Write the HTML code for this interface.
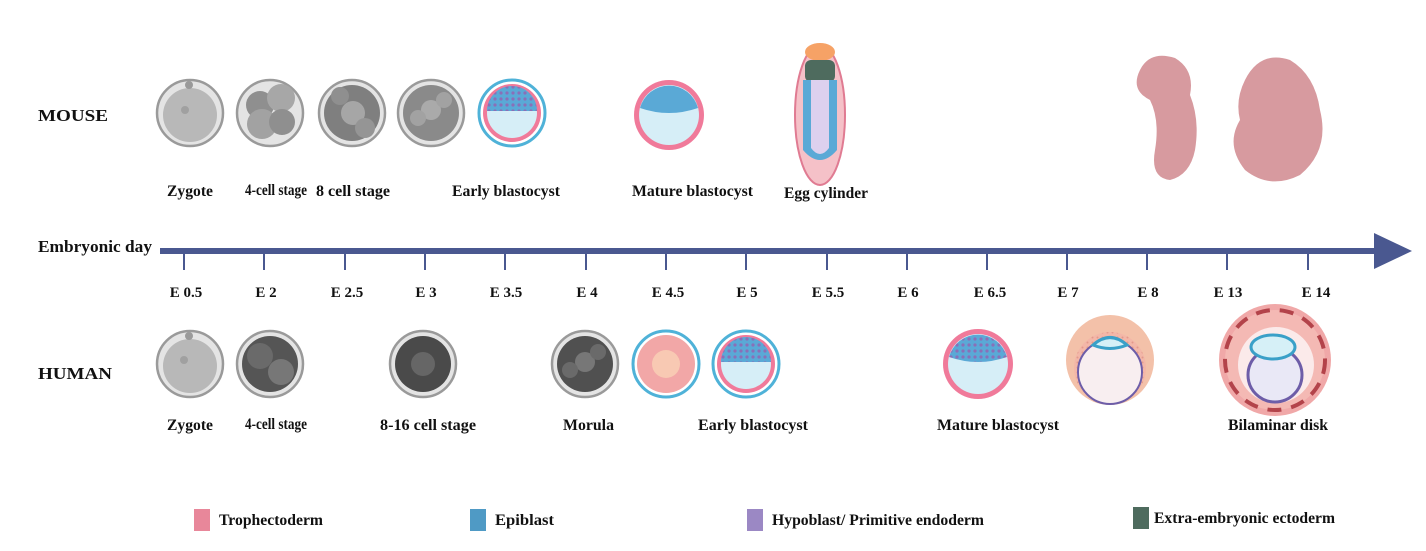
<!DOCTYPE html>
<html><head><meta charset="utf-8"><style>
html,body{margin:0;padding:0;background:#fff}
svg{display:block}
text{font-family:"Liberation Serif",serif;font-weight:bold;fill:#111}
</style></head><body>
<svg width="1426" height="551" viewBox="0 0 1426 551" xmlns="http://www.w3.org/2000/svg">
<defs>
<pattern id="dots" width="6" height="6" patternUnits="userSpaceOnUse"><rect width="6" height="6" fill="#5aa9d6"/><circle cx="3" cy="3" r="1.6" fill="#8a6fb8"/></pattern>
<pattern id="pdots" width="5" height="5" patternUnits="userSpaceOnUse"><rect width="5" height="5" fill="#f3b7a8"/><circle cx="2.5" cy="2.5" r="1" fill="#e39a8a"/></pattern>
</defs>

<text x="38" y="121" font-size="17" textLength="70" lengthAdjust="spacingAndGlyphs">MOUSE</text>
<text x="38" y="379" font-size="17" textLength="74" lengthAdjust="spacingAndGlyphs">HUMAN</text>
<text x="38" y="252" font-size="16.5" textLength="114" lengthAdjust="spacingAndGlyphs">Embryonic day</text>

<rect x="160" y="248" width="1220" height="6" fill="#4a5890"/>
<polygon points="1374,233 1412,251 1374,269" fill="#4a5890"/>
<g stroke="#4a5890" stroke-width="2">
<line x1="184" y1="254" x2="184" y2="270"/><line x1="264" y1="254" x2="264" y2="270"/><line x1="345" y1="254" x2="345" y2="270"/><line x1="425" y1="254" x2="425" y2="270"/><line x1="505" y1="254" x2="505" y2="270"/><line x1="586" y1="254" x2="586" y2="270"/><line x1="666" y1="254" x2="666" y2="270"/><line x1="746" y1="254" x2="746" y2="270"/><line x1="827" y1="254" x2="827" y2="270"/><line x1="907" y1="254" x2="907" y2="270"/><line x1="987" y1="254" x2="987" y2="270"/><line x1="1067" y1="254" x2="1067" y2="270"/><line x1="1147" y1="254" x2="1147" y2="270"/><line x1="1227" y1="254" x2="1227" y2="270"/><line x1="1308" y1="254" x2="1308" y2="270"/>
</g>
<g font-size="15" text-anchor="middle" font-weight="normal">
<text x="186" y="297">E 0.5</text><text x="266" y="297">E 2</text><text x="347" y="297">E 2.5</text><text x="426" y="297">E 3</text><text x="506" y="297">E 3.5</text><text x="587" y="297">E 4</text><text x="668" y="297">E 4.5</text><text x="747" y="297">E 5</text><text x="828" y="297">E 5.5</text><text x="908" y="297">E 6</text><text x="990" y="297">E 6.5</text><text x="1068" y="297">E 7</text><text x="1148" y="297">E 8</text><text x="1228" y="297">E 13</text><text x="1316" y="297">E 14</text>
</g>

<g>
<circle cx="190" cy="113" r="33" fill="#e4e4e4" stroke="#9a9a9a" stroke-width="2.5"/><circle cx="190" cy="115" r="27" fill="#b8b8b8"/><circle cx="189" cy="85" r="4" fill="#9a9a9a"/><circle cx="185" cy="110" r="4" fill="#a0a0a0"/>
<circle cx="270" cy="113" r="33" fill="#e4e4e4" stroke="#9a9a9a" stroke-width="2.5"/><circle cx="260" cy="105" r="14" fill="#8f8f8f"/><circle cx="281" cy="98" r="14" fill="#a7a7a7"/><circle cx="262" cy="124" r="15" fill="#a2a2a2"/><circle cx="282" cy="122" r="13" fill="#8f8f8f"/>
<circle cx="352" cy="113" r="33" fill="#e4e4e4" stroke="#9a9a9a" stroke-width="2.5"/><circle cx="352" cy="113" r="28" fill="#7f7f7f"/><circle cx="353" cy="113" r="12" fill="#a6a6a6"/><circle cx="340" cy="96" r="9" fill="#8f8f8f"/><circle cx="365" cy="128" r="10" fill="#959595"/>
<circle cx="431" cy="113" r="33" fill="#e4e4e4" stroke="#9a9a9a" stroke-width="2.5"/><circle cx="431" cy="113" r="28" fill="#8a8a8a"/><circle cx="431" cy="110" r="10" fill="#aaaaaa"/><circle cx="418" cy="118" r="8" fill="#a2a2a2"/><circle cx="444" cy="100" r="8" fill="#a2a2a2"/>
<circle cx="512" cy="113" r="33" fill="#fff" stroke="#4fb2d8" stroke-width="3"/><circle cx="512" cy="113" r="29" fill="#f07a9a"/><circle cx="512" cy="113" r="25" fill="#d6eef7"/><path d="M487,111 A25,25 0 0 1 537,111 Z" fill="url(#dots)"/>
<circle cx="669" cy="115" r="35" fill="#f07a9a"/><circle cx="669" cy="115" r="30" fill="#d6eef7"/><path d="M640,108 A30,30 0 0 1 698,108 Q669,118 640,108Z" fill="#5aa9d6"/>
<ellipse cx="820" cy="115" rx="25" ry="70" fill="#f5c1c8" stroke="#e07b92" stroke-width="2"/>
<ellipse cx="820" cy="52" rx="15" ry="9" fill="#f6a266"/>
<rect x="805" y="60" width="30" height="22" rx="6" fill="#4e6b5e"/>
<path d="M803,80 L837,80 L837,150 Q820,170 803,150Z" fill="#5aa9d6"/>
<path d="M811,80 L829,80 L829,148 Q820,160 811,148Z" fill="#ddd0ee"/>
<path d="M1140,70 Q1150,50 1175,58 Q1195,70 1190,95 Q1200,120 1195,150 Q1190,175 1170,180 Q1150,178 1155,150 Q1160,120 1150,100 Q1130,90 1140,70Z" fill="#d79a9f"/>
<path d="M1245,80 Q1260,50 1290,60 Q1315,75 1320,110 Q1330,150 1300,175 Q1270,190 1245,170 Q1225,145 1240,120 Q1235,100 1245,80Z" fill="#d79a9f"/>
</g>

<g>
<circle cx="190" cy="364" r="33" fill="#e4e4e4" stroke="#9a9a9a" stroke-width="2.5"/><circle cx="190" cy="366" r="27" fill="#b8b8b8"/><circle cx="189" cy="336" r="4" fill="#9a9a9a"/><circle cx="184" cy="360" r="4" fill="#a0a0a0"/>
<circle cx="270" cy="364" r="33" fill="#e4e4e4" stroke="#9a9a9a" stroke-width="2.5"/><circle cx="270" cy="364" r="28" fill="#555"/><circle cx="260" cy="356" r="13" fill="#6a6a6a"/><circle cx="281" cy="372" r="13" fill="#777"/>
<circle cx="423" cy="364" r="33" fill="#e4e4e4" stroke="#9a9a9a" stroke-width="2.5"/><circle cx="423" cy="364" r="28" fill="#4a4a4a"/><circle cx="423" cy="364" r="12" fill="#666"/>
<circle cx="585" cy="364" r="33" fill="#e4e4e4" stroke="#9a9a9a" stroke-width="2.5"/><circle cx="585" cy="364" r="28" fill="#505050"/><circle cx="585" cy="362" r="10" fill="#777"/><circle cx="570" cy="370" r="8" fill="#6a6a6a"/><circle cx="598" cy="352" r="8" fill="#6a6a6a"/>
<circle cx="666" cy="364" r="33" fill="#fff" stroke="#4fb2d8" stroke-width="3"/><circle cx="666" cy="364" r="29" fill="#f2a7a7"/><circle cx="666" cy="364" r="14" fill="#f8c9b3"/>
<circle cx="746" cy="364" r="33" fill="#fff" stroke="#4fb2d8" stroke-width="3"/><circle cx="746" cy="364" r="29" fill="#f07a9a"/><circle cx="746" cy="364" r="25" fill="#d6eef7"/><path d="M721,362 A25,25 0 0 1 771,362 Z" fill="url(#dots)"/>
<circle cx="978" cy="364" r="35" fill="#f07a9a"/><circle cx="978" cy="364" r="30" fill="#d6eef7"/><path d="M949,357 A30,30 0 0 1 1007,357 Q978,367 949,357Z" fill="url(#dots)"/>
<ellipse cx="1110" cy="360" rx="44" ry="45" fill="#f3c1a9"/><circle cx="1110" cy="368" r="36" fill="url(#pdots)"/><circle cx="1110" cy="372" r="32" fill="#f8eef0" stroke="#6d5da8" stroke-width="2"/><path d="M1093,345 Q1110,330 1127,345 Q1110,352 1093,345Z" fill="#d6f0f7" stroke="#3aa0c8" stroke-width="3"/>
<circle cx="1275" cy="360" r="56" fill="#f0a8a8"/><circle cx="1275" cy="360" r="50" fill="#f4b9b4" stroke="#b3434a" stroke-width="4" stroke-dasharray="14 10"/><circle cx="1276" cy="365" r="38" fill="#fbeaea"/><circle cx="1275" cy="375" r="27" fill="#e9e8f6" stroke="#6d5da8" stroke-width="3"/><ellipse cx="1273" cy="347" rx="22" ry="12" fill="#d6f0f7" stroke="#3aa0c8" stroke-width="3"/>
</g>

<g font-size="15.5" lengthAdjust="spacingAndGlyphs">
<text x="167" y="196" textLength="46" lengthAdjust="spacingAndGlyphs">Zygote</text>
<text x="245" y="195" textLength="62" lengthAdjust="spacingAndGlyphs">4-cell stage</text>
<text x="316" y="196" textLength="74" lengthAdjust="spacingAndGlyphs">8 cell stage</text>
<text x="452" y="196" textLength="108" lengthAdjust="spacingAndGlyphs">Early blastocyst</text>
<text x="632" y="196" textLength="121" lengthAdjust="spacingAndGlyphs">Mature blastocyst</text>
<text x="784" y="198" textLength="84" lengthAdjust="spacingAndGlyphs">Egg cylinder</text>
<text x="167" y="430" textLength="46" lengthAdjust="spacingAndGlyphs">Zygote</text>
<text x="245" y="429" textLength="62" lengthAdjust="spacingAndGlyphs">4-cell stage</text>
<text x="380" y="430" textLength="96" lengthAdjust="spacingAndGlyphs">8-16 cell stage</text>
<text x="563" y="430" textLength="51" lengthAdjust="spacingAndGlyphs">Morula</text>
<text x="698" y="430" textLength="110" lengthAdjust="spacingAndGlyphs">Early blastocyst</text>
<text x="937" y="430" textLength="122" lengthAdjust="spacingAndGlyphs">Mature blastocyst</text>
<text x="1228" y="430" textLength="100" lengthAdjust="spacingAndGlyphs">Bilaminar disk</text>
</g>

<g font-size="15.5">
<rect x="194" y="509" width="16" height="22" fill="#e8879a"/><text x="219" y="525" textLength="104" lengthAdjust="spacingAndGlyphs">Trophectoderm</text>
<rect x="470" y="509" width="16" height="22" fill="#4f9ac5"/><text x="495" y="525" textLength="59" lengthAdjust="spacingAndGlyphs">Epiblast</text>
<rect x="747" y="509" width="16" height="22" fill="#9b88c4"/><text x="772" y="525" textLength="212" lengthAdjust="spacingAndGlyphs">Hypoblast/ Primitive endoderm</text>
<rect x="1133" y="507" width="16" height="22" fill="#4e6b5e"/><text x="1154" y="523" textLength="181" lengthAdjust="spacingAndGlyphs">Extra-embryonic ectoderm</text>
</g>
</svg>
</body></html>
